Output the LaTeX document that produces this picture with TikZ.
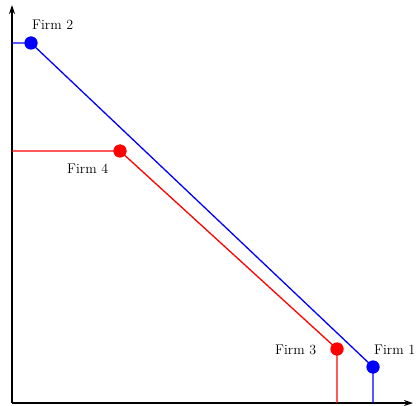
\documentclass[tikz,border=0pt]{standalone}
\usetikzlibrary{arrows.meta}
\begin{document}
\begin{tikzpicture}[x=1pt,y=-1pt,
  dot/.style={circle,fill=#1,inner sep=0pt,minimum size=13pt},
  lbl/.style={font=\fontsize{14}{16}\selectfont,inner sep=0pt},
  link/.style={line width=1.3pt,#1}]
\useasboundingbox (0,0) rectangle (417,406);
\coordinate (O) at (12,403);
\coordinate (Y) at (12,5);
\coordinate (X) at (413,403);
\draw[line width=1.4pt,-{Stealth[length=9pt,width=6pt]}] (O) -- (Y);
\draw[line width=1.4pt,-{Stealth[length=9pt,width=6pt]}] (O) -- (X);
\node[dot=blue] (f2) at (31,43) {};
\node[dot=blue] (f1) at (373,367) {};
\node[dot=red] (f4) at (120,151) {};
\node[dot=red] (f3) at (337,349) {};
\coordinate (f2y) at (12,43);
\coordinate (f4y) at (12,151);
\coordinate (f1x) at (373,403);
\coordinate (f3x) at (337,403);
\draw[link=blue] (f2y) -- (f2.center) -- (f1.center) -- (f1x);
\draw[link=red] (f4y) -- (f4.center) -- (f3.center) -- (f3x);
\node[dot=blue] at (f2) {};
\node[dot=blue] at (f1) {};
\node[dot=red] at (f4) {};
\node[dot=red] at (f3) {};
\node[lbl,anchor=west] (l2) at (32,25) {Firm 2};
\node[lbl,anchor=west] (l4) at (67,169) {Firm 4};
\node[lbl,anchor=west] (l3) at (275,350) {Firm 3};
\node[lbl,anchor=west] (l1) at (374,350) {Firm 1};
\end{tikzpicture}
\end{document}
